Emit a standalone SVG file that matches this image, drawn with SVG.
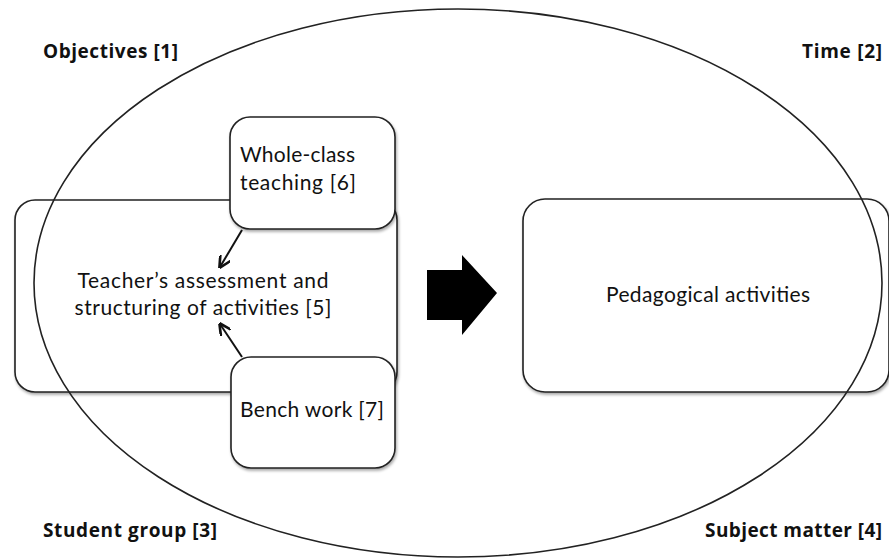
<svg xmlns="http://www.w3.org/2000/svg" width="889" height="559" viewBox="0 0 889 559">
<style>
.box{fill:#fff;stroke:#222;stroke-width:1.6;filter:url(#sh)}
.t{font-family:Lato,"Liberation Sans",sans-serif;font-size:21px;fill:#111}
.b{font-family:"Open Sans","Liberation Sans",sans-serif;font-weight:bold;font-size:19px;fill:#111}
.ln{stroke:#111;stroke-width:2;fill:none;marker-end:url(#ah)}
</style>
<defs>
<filter id="sh" x="-10%" y="-10%" width="120%" height="125%">
<feGaussianBlur in="SourceAlpha" stdDeviation="1.5"/>
<feOffset dx="1" dy="2" result="o"/>
<feComponentTransfer><feFuncA type="linear" slope="0.35"/></feComponentTransfer>
<feMerge><feMergeNode/><feMergeNode in="SourceGraphic"/></feMerge>
</filter>
<marker id="ah" viewBox="0 0 10 10" refX="9" refY="5" markerWidth="6" markerHeight="6" orient="auto" markerUnits="strokeWidth">
<path d="M0,0 L10,5 L0,10" fill="none" stroke="#111" stroke-width="2.2"/>
</marker>
</defs>
<rect width="889" height="559" fill="#fff"/>
<g id="teacher">
<rect class="box" x="15" y="200" width="382" height="192" rx="20"/>
<text class="t" x="203" y="288" text-anchor="middle" textLength="251">Teacher’s assessment and</text>
<text class="t" x="203" y="315" text-anchor="middle" textLength="257">structuring of activities [5]</text>
</g>
<g id="wholeclass">
<rect class="box" x="230" y="117" width="165" height="112" rx="20"/>
<text class="t" x="240" y="162" textLength="115">Whole-class</text>
<text class="t" x="240" y="190" textLength="116">teaching [6]</text>
</g>
<g id="bench">
<rect class="box" x="231" y="357" width="164" height="111" rx="20"/>
<text class="t" x="240" y="417" textLength="144">Bench work [7]</text>
</g>
<g id="pedagogical">
<rect class="box" x="523" y="199" width="366" height="193" rx="22"/>
<text class="t" x="708" y="302" text-anchor="middle" textLength="204">Pedagogical activities</text>
</g>
<g id="frame">
<ellipse cx="458" cy="283" rx="424" ry="274" fill="none" stroke="#222" stroke-width="1.6"/>
</g>
<g id="labels">
<text class="b" x="43" y="58" textLength="135">Objectives [1]</text>
<text class="b" x="882" y="58" text-anchor="end" textLength="80">Time [2]</text>
<text class="b" x="43" y="537" textLength="174">Student group [3]</text>
<text class="b" x="882" y="537" text-anchor="end" textLength="177">Subject matter [4]</text>
</g>
<g id="connectors">
<line class="ln" x1="242" y1="230" x2="220" y2="267"/>
<line class="ln" x1="242" y1="357" x2="220" y2="324"/>
<polygon id="bigarrow" points="427,270 462,270 462,255 497,293 462,335 462,320 427,320" fill="#000"/>
</g>
</svg>
